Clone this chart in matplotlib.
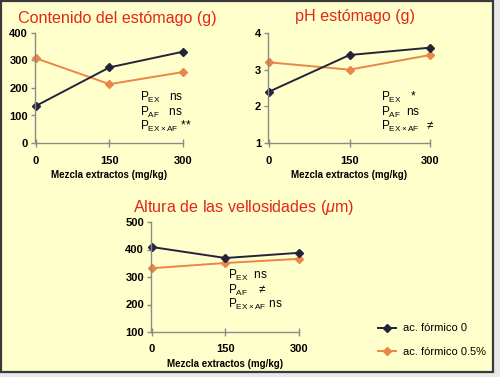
import matplotlib
matplotlib.use("Agg")
import matplotlib.pyplot as plt
from matplotlib.lines import Line2D
from matplotlib.patches import Rectangle

plt.rcParams["font.family"] = ["Liberation Sans", "DejaVu Sans"]
plt.rcParams["mathtext.fontset"] = "custom"
plt.rcParams["mathtext.rm"] = "Liberation Sans"
plt.rcParams["mathtext.it"] = "Liberation Sans:italic"
plt.rcParams["mathtext.bf"] = "Liberation Sans:bold"

doses = [0, 150, 300]
dose_labels = ["0", "150", "300"]

stomach_af0 = [135, 275, 332]
stomach_af05 = [308, 214, 258]
ph_af0 = [2.4, 3.4, 3.6]
ph_af05 = [3.2, 3.0, 3.4]
villi_af0 = [409, 369, 388]
villi_af05 = [332, 351, 366]

series_names = ["ac. fórmico 0", "ac. fórmico 0.5%"]

BG = "#FFFFCC"
DARK = "#23233a"
ORANGE = "#EC8548"
RED = "#E3261C"
AXIS = "#8a8a8a"

W, H = 500, 377
fig = plt.figure(figsize=(5, 3.77), dpi=100)
fig.patch.set_facecolor("#e8e8e8")
fig.patches.append(Rectangle((1 / W, 1 - 372 / H), 492 / W, 371 / H,
                             transform=fig.transFigure, facecolor=BG,
                             edgecolor="#3a3a3a", linewidth=1.6, zorder=-10))


def px_axes(left, top, right, bottom):
    ax = fig.add_axes([left / W, 1 - bottom / H, (right - left) / W, (bottom - top) / H])
    ax.set_facecolor("none")
    return ax


def style(ax, ylim, yticks):
    ax.set_xlim(-2, 300)
    ax.set_ylim(*ylim)
    ax.set_yticks(yticks)
    ax.set_xticks(doses)
    ax.set_xticklabels(dose_labels)
    for s in ("top", "right"):
        ax.spines[s].set_visible(False)
    for s in ("left", "bottom"):
        ax.spines[s].set_color(AXIS)
        ax.spines[s].set_linewidth(1.0)
    ax.tick_params(axis="y", colors=AXIS, labelcolor="black", length=3, width=1,
                   labelsize=8, pad=2)
    ax.tick_params(axis="x", colors=AXIS, labelcolor="black", length=6, width=1,
                   direction="inout", labelsize=8, pad=6)
    for lab in ax.get_xticklabels() + ax.get_yticklabels():
        lab.set_fontweight("bold")
    ax.set_xlabel("Mezcla extractos (mg/kg)", fontsize=7, fontweight="bold", labelpad=3)


def draw(ax, a, b):
    ax.plot(doses, b, color=ORANGE, lw=1.4, marker="D", ms=4, mec=ORANGE, clip_on=False)
    ax.plot(doses, a, color=DARK, lw=1.4, marker="D", ms=4, mec=DARK, clip_on=False)


def stats(ax, x, y, rows):
    for i, row in enumerate(rows):
        ax.text(x, y - i * 0.13, row, transform=ax.transAxes,
                fontsize=8.5, va="center", ha="left")


ax1 = px_axes(35, 33, 183, 143)
style(ax1, (0, 400), [0, 100, 200, 300, 400])
draw(ax1, stomach_af0, stomach_af05)
stats(ax1, 0.71, 0.41, [r"$\mathrm{P}_{\mathrm{EX}}$   ns",
                        r"$\mathrm{P}_{\mathrm{AF}}$   ns",
                        r"$\mathrm{P}_{\mathrm{EX\times AF}}$ **"])
fig.text(18 / W, 1 - 18 / H, "Contenido del estómago (g)", color=RED, fontsize=11.6,
         va="center", ha="left")

ax2 = px_axes(268, 33, 430, 143)
style(ax2, (1, 4), [1, 2, 3, 4])
draw(ax2, ph_af0, ph_af05)
stats(ax2, 0.70, 0.41, [r"$\mathrm{P}_{\mathrm{EX}}$   *",
                        r"$\mathrm{P}_{\mathrm{AF}}$  ns",
                        r"$\mathrm{P}_{\mathrm{EX\times AF}}$  $\neq$"])
fig.text(355 / W, 1 - 16 / H, "pH estómago (g)", color=RED, fontsize=11.6,
         va="center", ha="center")

ax3 = px_axes(151, 222, 299, 332)
style(ax3, (100, 500), [100, 200, 300, 400, 500])
draw(ax3, villi_af0, villi_af05)
stats(ax3, 0.52, 0.51, [r"$\mathrm{P}_{\mathrm{EX}}$  ns",
                        r"$\mathrm{P}_{\mathrm{AF}}$   $\neq$",
                        r"$\mathrm{P}_{\mathrm{EX\times AF}}$ ns"])
fig.text(133 / W, 1 - 207 / H, r"Altura de las vellosidades ($\mu$m)", color=RED,
         fontsize=11.6, va="center", ha="left")

handles = [
    Line2D([], [], color=DARK, lw=1.4, marker="D", ms=4),
    Line2D([], [], color=ORANGE, lw=1.4, marker="D", ms=4),
]
fig.legend(handles, series_names, loc="upper left", bbox_to_anchor=(374 / W, 1 - 319 / H),
           frameon=False, fontsize=8, handlelength=1.6, handletextpad=0.6,
           labelspacing=1.2, borderaxespad=0)

fig.savefig("out.png", dpi=100, facecolor=fig.get_facecolor())
